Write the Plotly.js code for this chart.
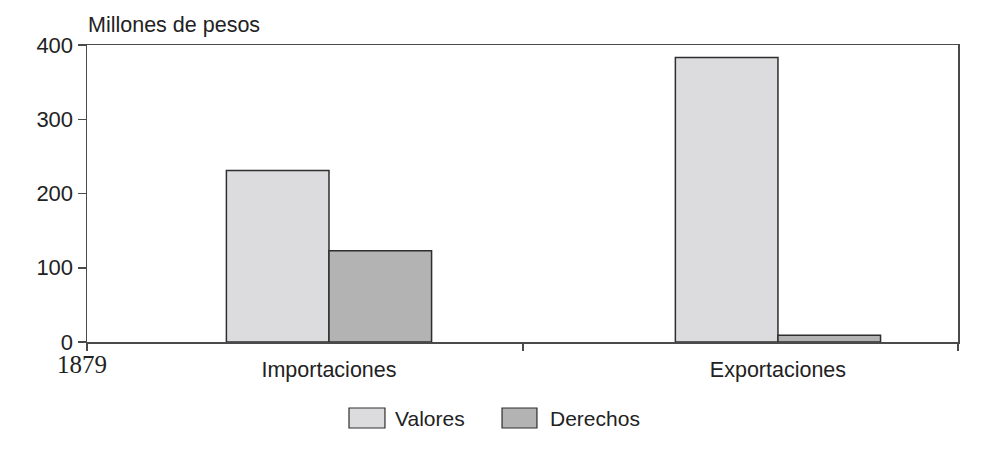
<!DOCTYPE html>
<html>
<head>
<meta charset="utf-8">
<script src="https://cdn.plot.ly/plotly-3.0.1.min.js"></script>
<style>html,body{margin:0;padding:0;background:#fff;}#chart{width:982px;height:455px;}</style>
</head>
<body>
<div id="chart"></div>
<script>
// Data
const categories = ["Importaciones", "Exportaciones"];
const seriesNames = ["Valores", "Derechos"];
const valores = [231, 383];
const derechos = [123, 9];
const yTickVals = [0, 100, 200, 300, 400];
const yearLabel = "1879";
const yTitle = "Millones de pesos";

// positions of categories on a numeric axis (1, 2)
const xPos = categories.map((c, i) => i + 1);
const xRange = [0.461, 2.401];
const boundaryTicks = [0.461, 1.432, 2.401];

const fillColors = ["#dcdcde", "#b3b3b4"];
const lineColor = "#2e2e2e";
const axisColor = "#4a4a4a";
const textColor = "#222222";
const sansFont = "Liberation Sans, Arial, sans-serif";

const traces = [valores, derechos].map((vals, k) => ({
  type: "bar",
  name: seriesNames[k],
  x: xPos,
  y: vals,
  marker: {color: fillColors[k], line: {color: lineColor, width: 1.5}},
  hoverinfo: "x+y+name",
  showlegend: false
}));
// invisible helper trace so the boundary-tick axis is drawn
traces.push({
  type: "scatter", mode: "none", x: boundaryTicks, y: boundaryTicks.map(() => 0),
  xaxis: "x2", yaxis: "y", hoverinfo: "skip", showlegend: false
});

// custom legend (large boxes)
const legendBoxes = [
  {x0: 0.3008, x1: 0.3421, tx: 0.3513},
  {x0: 0.4765, x1: 0.5166, tx: 0.5293}
];
const shapes = legendBoxes.map((b, k) => ({
  type: "rect", xref: "paper", yref: "paper",
  x0: b.x0, x1: b.x1, y0: -0.2896, y1: -0.2222,
  fillcolor: fillColors[k], line: {color: lineColor, width: 1.2}
}));
const annotations = legendBoxes.map((b, k) => ({
  xref: "paper", yref: "paper", x: b.tx, y: -0.2559,
  xanchor: "left", yanchor: "middle", showarrow: false,
  text: seriesNames[k], font: {family: sansFont, size: 21, color: textColor}
}));
annotations.push({
  xref: "paper", yref: "paper", x: 0, y: 0, xanchor: "center", yanchor: "top",
  xshift: -5, yshift: -7, showarrow: false, text: yearLabel,
  font: {family: "Liberation Serif, Times New Roman, serif", size: 25, color: textColor}
});
annotations.push({
  xref: "paper", yref: "paper", x: 0, y: 1, xanchor: "left", yanchor: "bottom",
  xshift: -1, yshift: 6, showarrow: false, text: yTitle,
  font: {family: sansFont, size: 21.5, color: textColor}
});

const layout = {
  width: 982, height: 455,
  margin: {l: 87, r: 24, t: 45, b: 113, pad: 0},
  paper_bgcolor: "#ffffff", plot_bgcolor: "#ffffff",
  barmode: "group", bargap: 0.543, bargroupgap: 0,
  font: {family: sansFont, size: 21, color: textColor},
  showlegend: false,
  xaxis: {
    range: xRange, tickmode: "array", tickvals: xPos, ticktext: categories,
    ticks: "", showgrid: false, zeroline: false,
    showline: true, linecolor: axisColor, linewidth: 1.5, mirror: true,
    tickfont: {family: sansFont, size: 21.5, color: textColor},
    ticklabelstandoff: 8, fixedrange: true
  },
  xaxis2: {
    overlaying: "x", anchor: "y", side: "bottom",
    range: xRange, tickmode: "array", tickvals: boundaryTicks,
    ticks: "outside", ticklen: 8, tickwidth: 1.5, tickcolor: axisColor,
    showticklabels: false, showgrid: false, zeroline: false, showline: false,
    fixedrange: true
  },
  yaxis: {
    range: [0, 400], tickmode: "array", tickvals: yTickVals,
    ticks: "outside", ticklen: 8, tickwidth: 1.5, tickcolor: axisColor,
    showgrid: false, zeroline: false,
    showline: true, linecolor: axisColor, linewidth: 1.5, mirror: true,
    tickfont: {family: sansFont, size: 22, color: textColor},
    ticklabelstandoff: 0,
    fixedrange: true
  },
  shapes: shapes,
  annotations: annotations
};

Plotly.newPlot("chart", traces, layout, {displayModeBar: false, staticPlot: true});
</script>
</body>
</html>
